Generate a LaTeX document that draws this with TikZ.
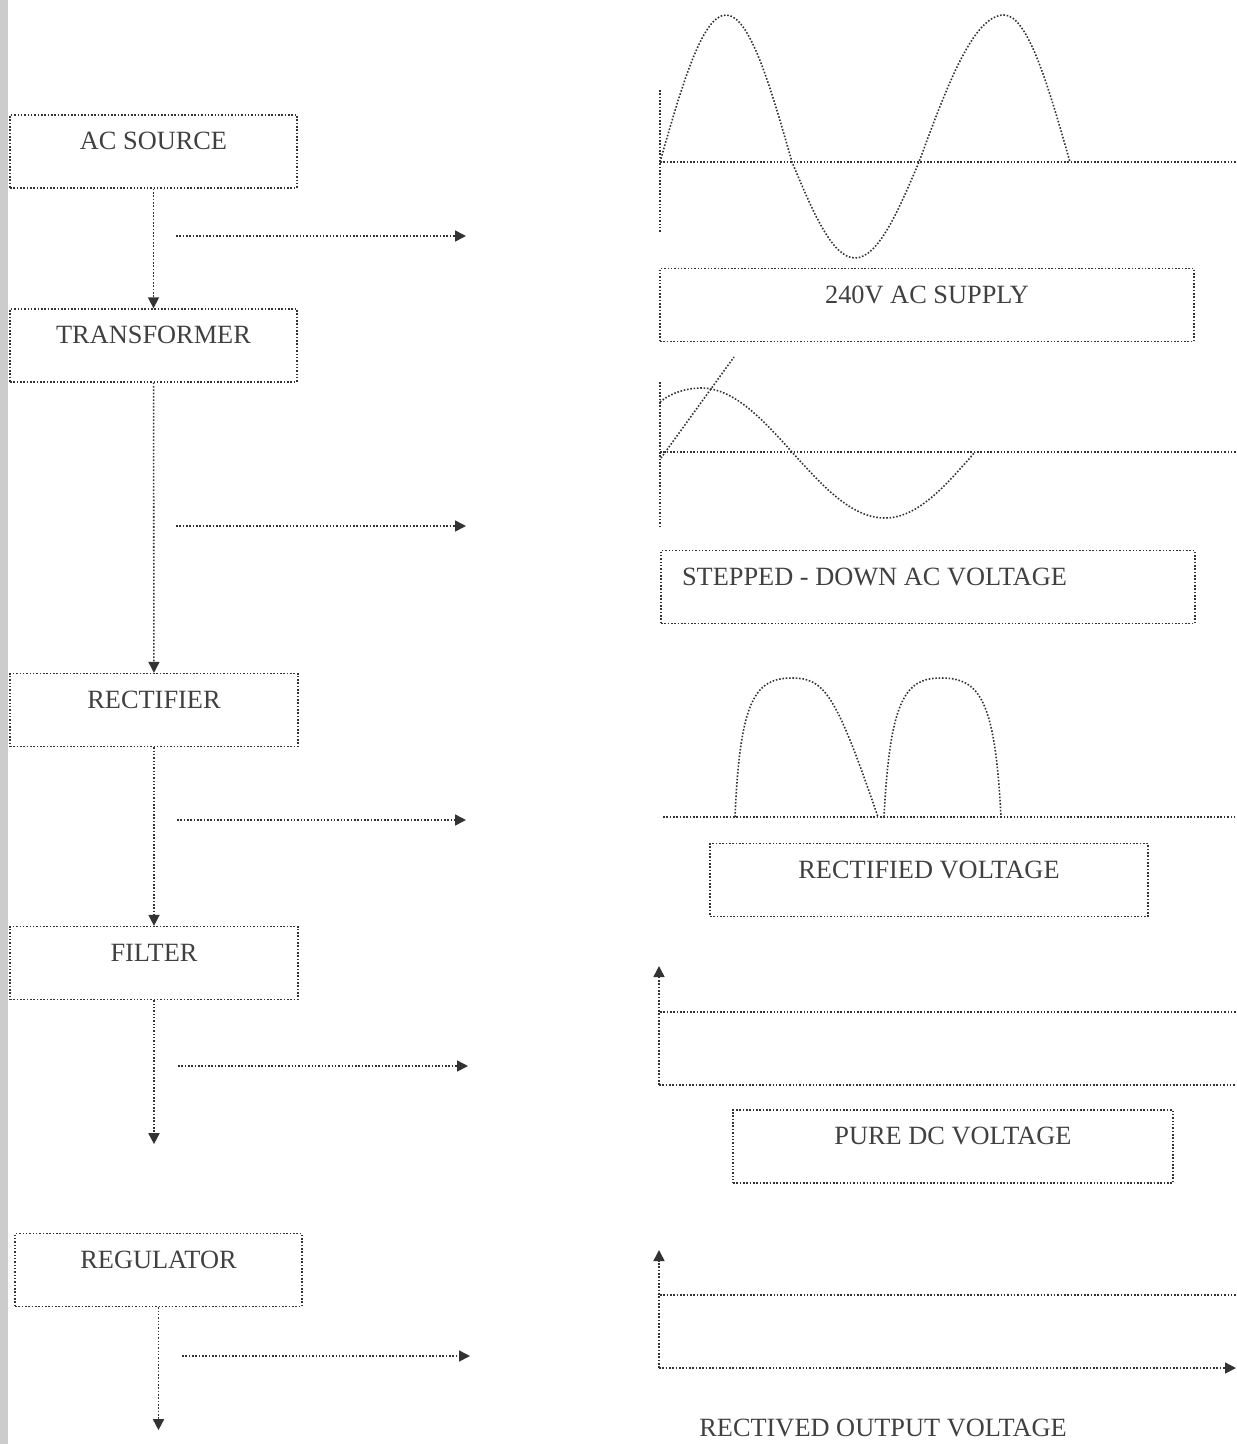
\documentclass[tikz,border=0pt]{standalone}
\usepackage{fontspec}
\setmainfont{Liberation Serif}
\usetikzlibrary{arrows.meta}

\begin{document}
\begin{tikzpicture}[x=0.02cm, y=-0.02cm,
	every node/.style={font=\fontsize{15}{18}\selectfont, text=black!75},
	dotline/.style={densely dotted, line width=0.9pt, draw=black!80},
	arr/.style={dotline, -{Triangle[length=0.22cm, width=0.22cm]}},
	stage/.style={dotline, rectangle, inner xsep=0pt, inner ysep=0pt, text height=19.8pt, text depth=21.6pt, minimum width=#1*0.02cm}]
\useasboundingbox (0,0) rectangle (1237,1444);
\fill[black!20] (0,0) rectangle (8,1444);
% stages
\node[stage=287] (acsrc) at (153.5,151.5) {AC SOURCE};
\node[stage=287] (xfmr) at (153.5,345.5) {TRANSFORMER};
\node[stage=288] (rect) at (154,710) {RECTIFIER};
\node[stage=288] (filt) at (154,963) {FILTER};
\node[stage=287] (reg) at (158.5,1270) {REGULATOR};
\path (filt.south) ++(0,144) coordinate (filtout);
\path (reg.south) ++(0,123) coordinate (regout);
\draw[arr] (acsrc) -- (xfmr);
\draw[arr] (xfmr) -- (rect);
\draw[arr] (rect) -- (filt);
\draw[arr] (filt.south) -- (filtout);
\draw[arr] (reg.south) -- (regout);
\foreach \n/\y/\a/\b in {1/236/176/466, 2/526/176/466, 3/820/177/466, 4/1066/178/468, 5/1356/182/470} {
	\coordinate (h\n a) at (\a,\y); \coordinate (h\n b) at (\b,\y);
	\draw[arr] (h\n a) -- (h\n b);
}
% 240V AC
\draw[dotline] (660,90) -- (660,233);
\draw[dotline] (660,162) -- (1237,162);
\draw[dotline] (660,162) sin (726,15) cos (792,162) sin (855,258) cos (919,162) sin (1004,15) cos (1070,162);
\node[stage=534] (acsup) at (927,305) {240V AC SUPPLY};
% stepped down
\draw[dotline] (660,382) -- (660,527);
\draw[dotline] (660,452) -- (1237,452);
\draw[dotline] (660,402) .. controls (672,392) and (688,388) .. (701,388) cos (792,452) sin (885,518) cos (975,452);
\draw[dotline] (661,458) -- (734,357);
\node[stage=534] (stepdn) at (928,587) {\makebox[9.84cm][l]{STEPPED - DOWN AC VOLTAGE}};
% rectified
\draw[dotline] (663,817) -- (1237,817);
\draw[dotline] (735,817) .. controls (740,700) and (755,678) .. (792,678) .. controls (825,678) and (836,695) .. (878,817);
\draw[dotline] (884,817) .. controls (890,700) and (905,678) .. (941,678) .. controls (980,678) and (995,700) .. (1001,817);
\node[stage=438] (rectv) at (929,880) {RECTIFIED VOLTAGE};
% pure dc
\draw[arr] (659,1085) -- (659,966);
\draw[dotline] (659,1085) -- (1237,1085);
\draw[dotline] (660,1012) -- (1237,1012);
\node[stage=440] (puredc) at (953,1146.5) {PURE DC VOLTAGE};
% output
\draw[arr] (659,1368) -- (659,1250);
\draw[arr] (659,1368) -- (1236,1368);
\draw[dotline] (660,1295) -- (1237,1295);
\node (outv) at (883,1428) {RECTIVED OUTPUT VOLTAGE};
\end{tikzpicture}
\end{document}
